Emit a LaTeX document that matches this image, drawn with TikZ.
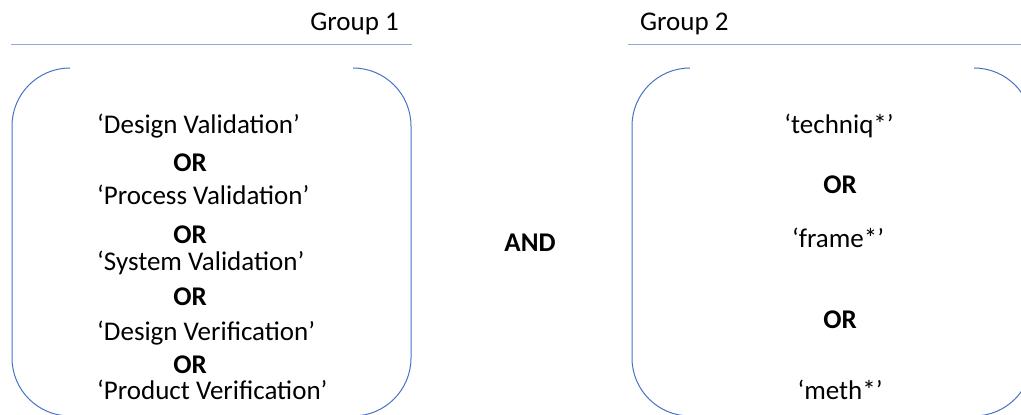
\documentclass[tikz,border=0pt]{standalone}
\usepackage{fontspec}
\setmainfont{Carlito}
\definecolor{rule}{RGB}{143,170,220}
\definecolor{brk}{RGB}{68,114,196}
\begin{document}
\begin{tikzpicture}[x=1pt,y=1pt,
  term/.style={font=\fontsize{27}{29}\selectfont, inner sep=0pt, anchor=west},
  termc/.style={font=\fontsize{27}{29}\selectfont, inner sep=0pt},
  op/.style={font=\fontsize{27}{29}\selectfont\bfseries, inner sep=0pt},
  grp/.style={font=\fontsize{27}{29}\selectfont, inner sep=0pt},
  hline/.style={draw=rule, line width=1pt},
  bracket/.style={draw=brk, line width=1pt}]
\useasboundingbox (0,0) rectangle (1021,415);
\begin{scope}
\clip (0,0) rectangle (1021,415);
% top rules
\draw[hline] (11,370) -- (412,370);
\draw[hline] (628,370) -- (1021,370);
% group 1 brackets
\draw[bracket] (70,347) arc[start angle=90,end angle=180,radius=58] -- (12,57) arc[start angle=180,end angle=270,radius=58];
\draw[bracket] (353,347) arc[start angle=90,end angle=0,radius=58] -- (411,57) arc[start angle=0,end angle=-90,radius=58];
% group 2 brackets
\draw[bracket] (690,347) arc[start angle=90,end angle=180,radius=58] -- (632,57) arc[start angle=180,end angle=270,radius=58];
\draw[bracket] (974,347) arc[start angle=90,end angle=0,radius=58] -- (1032,57) arc[start angle=0,end angle=-90,radius=58];
\end{scope}
% group labels
\node[grp, anchor=east] (g1) at (399,391) {Group 1};
\node[grp, anchor=west] (g2) at (640,391) {Group 2};
% group 1 terms
\node[term] (t1) at (97,289) {‘Design Validation’};
\node[op] (o1) at (190,252) {OR};
\node[term] (t2) at (97,220) {‘Process Validation’};
\node[op] (o2) at (190,180) {OR};
\node[term] (t3) at (97,152) {‘System Validation’};
\node[op] (o3) at (190,118) {OR};
\node[term] (t4) at (97,82) {‘Design Verification’};
\node[op] (o4) at (190,50) {OR};
\node[term] (t5) at (97,25) {‘Product Verification’};
% AND
\node[op] (and) at (530,172) {AND};
% group 2 terms
\node[termc] (u1) at (839,289) {‘techniq*’};
\node[op] (p1) at (840,230) {OR};
\node[termc] (u2) at (838,177) {‘frame*’};
\node[op] (p2) at (840,95) {OR};
\node[termc] (u3) at (840,25) {‘meth*’};
\end{tikzpicture}
\end{document}
